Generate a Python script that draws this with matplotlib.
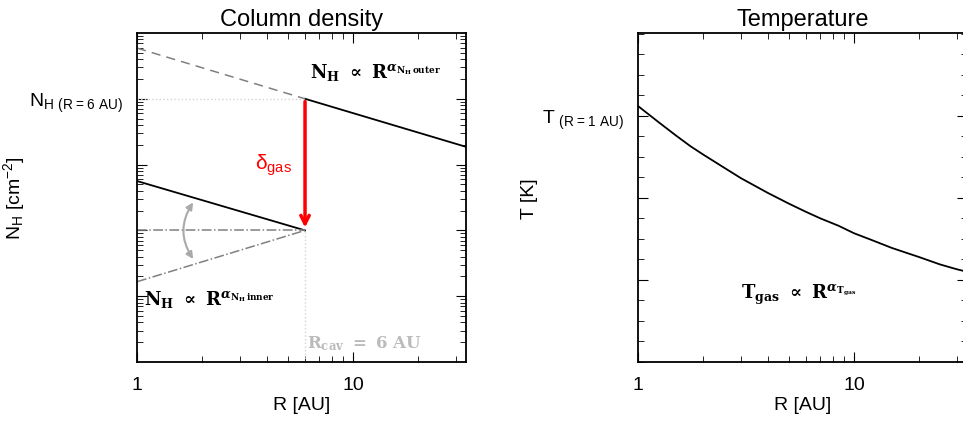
import numpy as np
import matplotlib.pyplot as plt
from matplotlib.ticker import LogLocator, MultipleLocator, NullFormatter

plt.rcParams['font.family'] = ['Liberation Sans', 'DejaVu Sans']
plt.rcParams['mathtext.fontset'] = 'custom'
plt.rcParams['mathtext.rm'] = 'Liberation Sans'
plt.rcParams['mathtext.it'] = 'DejaVu Serif:italic:bold'
plt.rcParams['mathtext.bf'] = 'DejaVu Serif:bold'
plt.rcParams['xtick.direction'] = 'in'
plt.rcParams['ytick.direction'] = 'in'

# column density profile (log-log)
R_cav = 6.0
R_max = 33.4
nh_outer_r = [R_cav, R_max]
nh_outer = [1e4, 10**3.27]
nh_outer_ext_r = [1.0, R_cav]
nh_outer_ext = [10**4.77, 1e4]
nh_inner_r = [1.0, R_cav]
nh_inner = [10**2.75, 1e2]
nh_flat = [1e2, 1e2]
nh_rising = [10**1.22, 1e2]

# temperature profile
t_r = [1, 1.25, 1.5, 1.75, 2, 2.5, 3, 4, 5, 6, 7, 8.5, 10, 12, 15, 18, 20, 25, 30, 33.4]
t_val = [3.12, 2.92, 2.76, 2.63, 2.53, 2.37, 2.24, 2.06, 1.93, 1.83, 1.75, 1.66,
         1.57, 1.49, 1.39, 1.32, 1.28, 1.19, 1.13, 1.10]

fig = plt.figure(figsize=(9.63, 4.27), dpi=100)
ax1 = fig.add_axes([0.1423, 0.1499, 0.3416, 0.7705])
ax2 = fig.add_axes([0.6625, 0.1499, 0.3416, 0.7705])

# ---- column density
ax1.set_xscale('log')
ax1.set_yscale('log')
ax1.set_xlim(1, R_max)
ax1.set_ylim(1, 1e5)
ax1.plot(nh_outer_r, nh_outer, color='black', lw=1.3)
ax1.plot(nh_outer_ext_r, nh_outer_ext, color='gray', lw=1.1, ls=(0, (6, 4)))
ax1.plot(nh_inner_r, nh_inner, color='black', lw=1.3)
ax1.plot(nh_inner_r, nh_flat, color='gray', lw=1.1, ls='-.')
ax1.plot(nh_inner_r, nh_rising, color='gray', lw=1.1, ls='-.')
ax1.plot([1, R_cav], [1e4, 1e4], color='lightgray', lw=1, ls=':')
ax1.plot([R_cav, R_cav], [1, 1e2], color='lightgray', lw=1, ls=':')
ax1.annotate('', xy=(R_cav, 1e2), xytext=(R_cav, 1e4),
             arrowprops=dict(arrowstyle='->', color='red', lw=2.5, mutation_scale=15))
ax1.annotate('', xy=(1.85, 10**1.53), xytext=(1.85, 10**2.46),
             arrowprops=dict(arrowstyle='<|-|>', color='darkgray', lw=1.5,
                             connectionstyle='arc3,rad=0.35', mutation_scale=10))
ax1.text(4.3, 10**3.0, r'$\mathrm{\delta_{gas}}$', color='red', fontsize=15,
         ha='center', va='center')
ax1.text(6.3, 10**4.42, r'$\mathbf{N_H\ \propto\ R}^{\alpha_{\mathbf{N_H\,outer}}}$',
         fontsize=13, va='center')
ax1.text(1.08, 10**0.97, r'$\mathbf{N_H\ \propto\ R}^{\alpha_{\mathbf{N_H\,inner}}}$',
         fontsize=13, va='center')
ax1.text(6.1, 10**0.3, r'$\mathbf{R_{cav}\ =\ 6\ AU}$', color='#bbbbbb',
         fontsize=12, va='center')
ax1.yaxis.set_minor_locator(LogLocator(base=10, subs=np.arange(2, 10), numticks=20))
ax1.yaxis.set_minor_formatter(NullFormatter())
ax1.set_yticks([1e1, 1e2, 1e3, 1e4])
ax1.set_yticklabels(['', '', '', r'N$_{\rm H\ (R=6\ AU)}$'])
ax1.set_ylabel(r'N$_{\rm H}$ [cm$^{-2}$]', fontsize=14)
ax1.yaxis.set_label_coords(-0.335, 0.5)
ax1.set_title('Column density', fontsize=17)

# ---- temperature
ax2.set_xscale('log')
ax2.set_xlim(1, R_max)
ax2.set_ylim(0, 4.01)
ax2.plot(t_r, t_val, color='black', lw=1.3)
ax2.yaxis.set_minor_locator(MultipleLocator(0.25))
ax2.set_yticks([1, 2, 3])
ax2.set_yticklabels(['', '', r'T$_{\rm\ (R=1\ AU)}$'])
ax2.text(3.0, 0.83, r'$\mathbf{T_{gas}\ \propto\ R}^{\alpha_{\mathbf{T_{gas}}}}$',
         fontsize=13, va='center')
ax2.set_ylabel('T [K]', fontsize=14)
ax2.yaxis.set_label_coords(-0.305, 0.5)
ax2.set_title('Temperature', fontsize=17)

for ax in (ax1, ax2):
    ax.set_xticks([1, 10])
    ax.set_xticklabels(['1', '10'])
    ax.xaxis.set_minor_formatter(NullFormatter())
    ax.tick_params(which='both', top=True, right=True, labelsize=14, pad=10)
    ax.tick_params(which='major', length=7)
    ax.tick_params(which='minor', length=4)
    ax.set_xlabel('R [AU]', fontsize=14, labelpad=2)
    for s in ax.spines.values():
        s.set_linewidth(1.3)

fig.savefig('out.png', dpi=100)
